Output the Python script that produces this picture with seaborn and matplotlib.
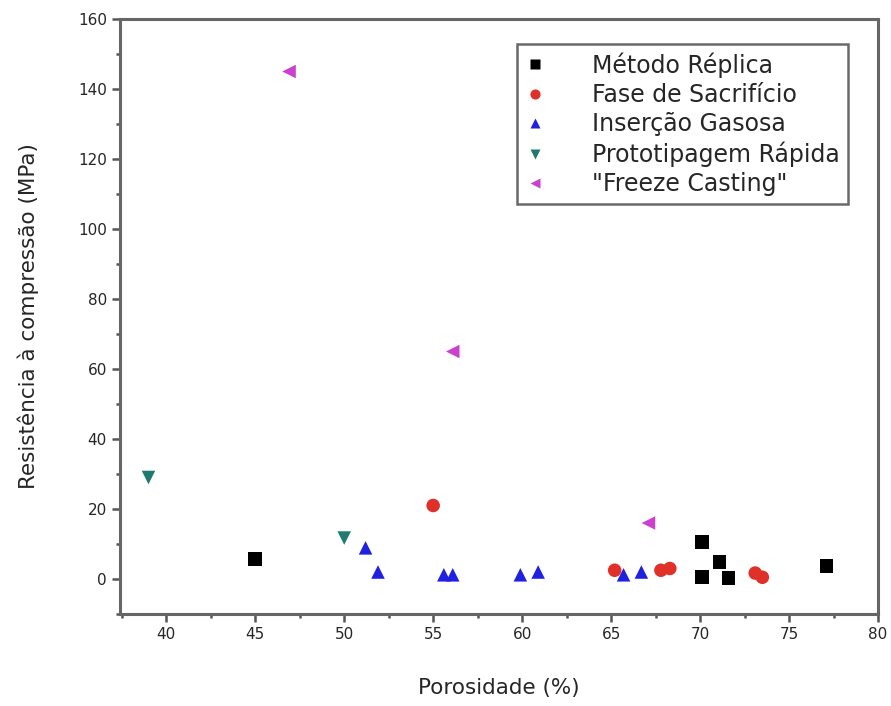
import numpy as np
import pandas as pd
import matplotlib
matplotlib.use("Agg")
import matplotlib.pyplot as plt
import seaborn as sns
from matplotlib.ticker import MultipleLocator

# dados
metodos = ["Método Réplica", "Fase de Sacrifício", "Inserção Gasosa",
           "Prototipagem Rápida", "\"Freeze Casting\""]

replica_x = [45.0, 70.1, 71.1, 70.1, 71.6, 77.1]
replica_y = [5.7, 10.6, 4.9, 0.6, 0.3, 3.7]

sacrificio_x = [55.0, 65.2, 67.8, 68.3, 73.1, 73.5]
sacrificio_y = [21.0, 2.5, 2.5, 3.0, 1.7, 0.5]

gasosa_x = [51.2, 51.9, 55.6, 56.1, 59.9, 60.9, 65.7, 66.7]
gasosa_y = [8.9, 2.0, 1.2, 1.2, 1.2, 2.0, 1.2, 2.0]

prototip_x = [39.0, 50.0]
prototip_y = [29.0, 11.7]

freeze_x = [46.9, 56.1, 67.1]
freeze_y = [145.0, 65.0, 16.0]

cores = ["#000000", "#e0302a", "#2020e0", "#207a6e", "#cc40d0"]
marcadores = ["s", "o", "^", "v", "<"]

xs = [replica_x, sacrificio_x, gasosa_x, prototip_x, freeze_x]
ys = [replica_y, sacrificio_y, gasosa_y, prototip_y, freeze_y]
df = pd.concat([pd.DataFrame({"porosidade": x, "resistencia": y, "metodo": m})
                for x, y, m in zip(xs, ys, metodos)], ignore_index=True)

sns.set_theme(style="ticks")
plt.rcParams["font.family"] = ["DejaVu Sans"]

fig = plt.figure(figsize=(8.91, 7.06), dpi=100)
ax = fig.add_axes([0.1347, 0.1303, 0.8507, 0.8428])

sns.scatterplot(data=df, x="porosidade", y="resistencia", hue="metodo", style="metodo",
                hue_order=metodos, style_order=metodos,
                palette=dict(zip(metodos, cores)), markers=dict(zip(metodos, marcadores)),
                s=95, edgecolor="none", ax=ax)

ax.set_xlim(37.4, 80)
ax.set_ylim(-10, 160)
ax.xaxis.set_major_locator(MultipleLocator(5))
ax.xaxis.set_minor_locator(MultipleLocator(2.5))
ax.yaxis.set_major_locator(MultipleLocator(20))
ax.yaxis.set_minor_locator(MultipleLocator(10))
ax.tick_params(which="major", length=6, width=1.8, labelsize=11, direction="out",
               color="#555555")
ax.tick_params(which="minor", length=3, width=1.8, direction="out", color="#555555")
for sp in ax.spines.values():
    sp.set_linewidth(2.2)
    sp.set_color("#666666")

ax.set_xlabel("Porosidade (%)", fontsize=15.5, labelpad=26)
ax.set_ylabel("Resistência à compressão (MPa)", fontsize=15.5, labelpad=28)

leg = ax.legend(loc="upper right", bbox_to_anchor=(0.96, 0.958), fontsize=17,
                frameon=True, fancybox=False, edgecolor="#444444",
                markerscale=0.75, handletextpad=2.0, labelspacing=0.22,
                borderpad=0.35, borderaxespad=0, handlelength=0.8)
leg.get_frame().set_linewidth(1.8)

fig.savefig("out.png", dpi=100)
